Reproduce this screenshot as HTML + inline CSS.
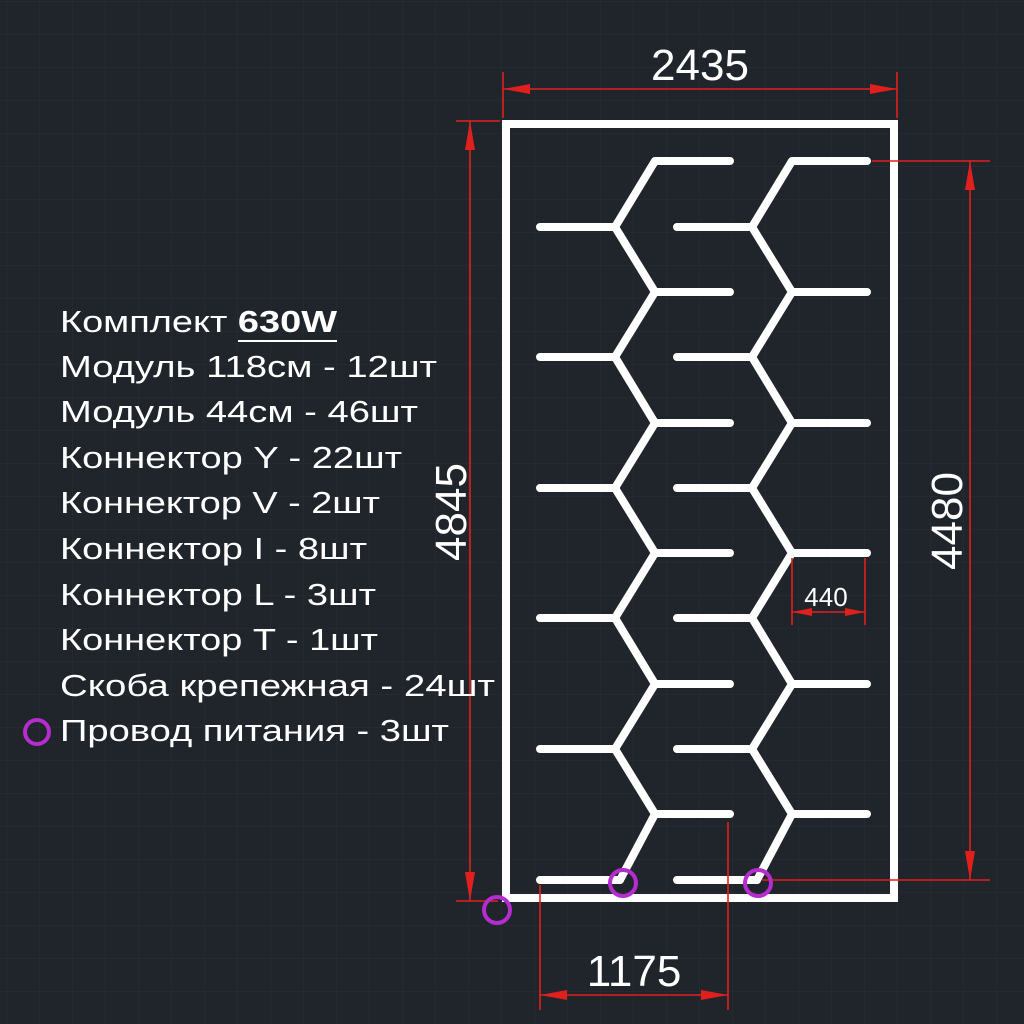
<!DOCTYPE html>
<html><head><meta charset="utf-8"><style>
html,body{margin:0;padding:0;background:#20252c;}
svg{display:block}
text{font-family:"Liberation Sans",sans-serif;fill:#fff}
</style></head><body>
<svg width="1024" height="1024" viewBox="0 0 1024 1024" xmlns="http://www.w3.org/2000/svg">
<defs>
<pattern id="g" width="33" height="33" patternUnits="userSpaceOnUse" x="7" y="2">
<path d="M33 0V33M0 33H33" stroke="#2a3038" stroke-width="1" fill="none"/>
</pattern>
</defs>
<rect width="1024" height="1024" fill="#20252c"/>
<rect width="1024" height="1024" fill="url(#g)"/>

<rect x="506" y="124" width="388" height="774" fill="none" stroke="#fff" stroke-width="8"/>

<g stroke="#fff" stroke-width="8" stroke-linecap="round" fill="none" stroke-linejoin="round">
<g id="col">
<polyline points="730,161 655,161 615,227 655,292 615,357 655,423 615,488 655,553 615,618 655,684 615,749 655,814 620,880"/>
<path d="M540,227H615 M655,292H730 M540,357H615 M655,423H730 M540,488H615 M655,553H730 M540,618H615 M655,684H730 M540,749H615 M655,814H730 M540,880H620"/>
</g>
<use href="#col" transform="translate(137,0)"/>
</g>

<g stroke="#e0201c" stroke-width="1.6" fill="none">
<path d="M503,72V118 M897,72V118 M503,89H897"/>
<path d="M456,121H500 M470,121V901 M456,901H498"/>
<path d="M872,161H990 M970,161V880 M762,880H990"/>
<path d="M540,885V1010 M728,822V1010 M540,995H728"/>
<path d="M792,558V625 M865,558V625 M792,612H865"/>
</g>
<g fill="#e0201c">
<polygon points="503,89 530,84 530,94"/><polygon points="897,89 870,84 870,94"/>
<polygon points="470,121 465,150 475,150"/><polygon points="470,901 465,872 475,872"/>
<polygon points="970,161 965,190 975,190"/><polygon points="970,880 965,851 975,851"/>
<polygon points="540,995 567,990 567,1000"/><polygon points="728,995 701,990 701,1000"/>
<polygon points="792,612 812,608 812,616"/><polygon points="865,612 845,608 845,616"/>
</g>
<text x="700" y="80" font-size="44" text-anchor="middle">2435</text>
<text x="634" y="986" font-size="44" text-anchor="middle">1175</text>
<text x="826" y="606" font-size="26" text-anchor="middle">440</text>
<text transform="translate(466,512) rotate(-90)" font-size="44" text-anchor="middle">4845</text>
<text transform="translate(962,521) rotate(-90)" font-size="44" text-anchor="middle">4480</text>

<g stroke="#b52ccf" stroke-width="4" fill="none">
<circle cx="623" cy="883" r="13"/><circle cx="758" cy="883" r="13"/>
<circle cx="497" cy="910" r="13"/><circle cx="37" cy="732" r="12"/>
</g>

<g font-size="31">
<text x="60" y="332" textLength="277" lengthAdjust="spacingAndGlyphs">Комплект <tspan font-weight="bold">630W</tspan></text>
<line x1="238" y1="341" x2="337" y2="341" stroke="#fff" stroke-width="2"/>
<text x="60" y="377" textLength="377" lengthAdjust="spacingAndGlyphs">Модуль 118см - 12шт</text>
<text x="60" y="422" textLength="358" lengthAdjust="spacingAndGlyphs">Модуль 44см - 46шт</text>
<text x="60" y="468" textLength="342" lengthAdjust="spacingAndGlyphs">Коннектор Y - 22шт</text>
<text x="60" y="513" textLength="320" lengthAdjust="spacingAndGlyphs">Коннектор V - 2шт</text>
<text x="60" y="559" textLength="307" lengthAdjust="spacingAndGlyphs">Коннектор I - 8шт</text>
<text x="60" y="605" textLength="316" lengthAdjust="spacingAndGlyphs">Коннектор L - 3шт</text>
<text x="60" y="650" textLength="318" lengthAdjust="spacingAndGlyphs">Коннектор T - 1шт</text>
<text x="60" y="696" textLength="435" lengthAdjust="spacingAndGlyphs">Скоба крепежная - 24шт</text>
<text x="60" y="741" textLength="389" lengthAdjust="spacingAndGlyphs">Провод питания - 3шт</text>
</g>
</svg>
</body></html>
